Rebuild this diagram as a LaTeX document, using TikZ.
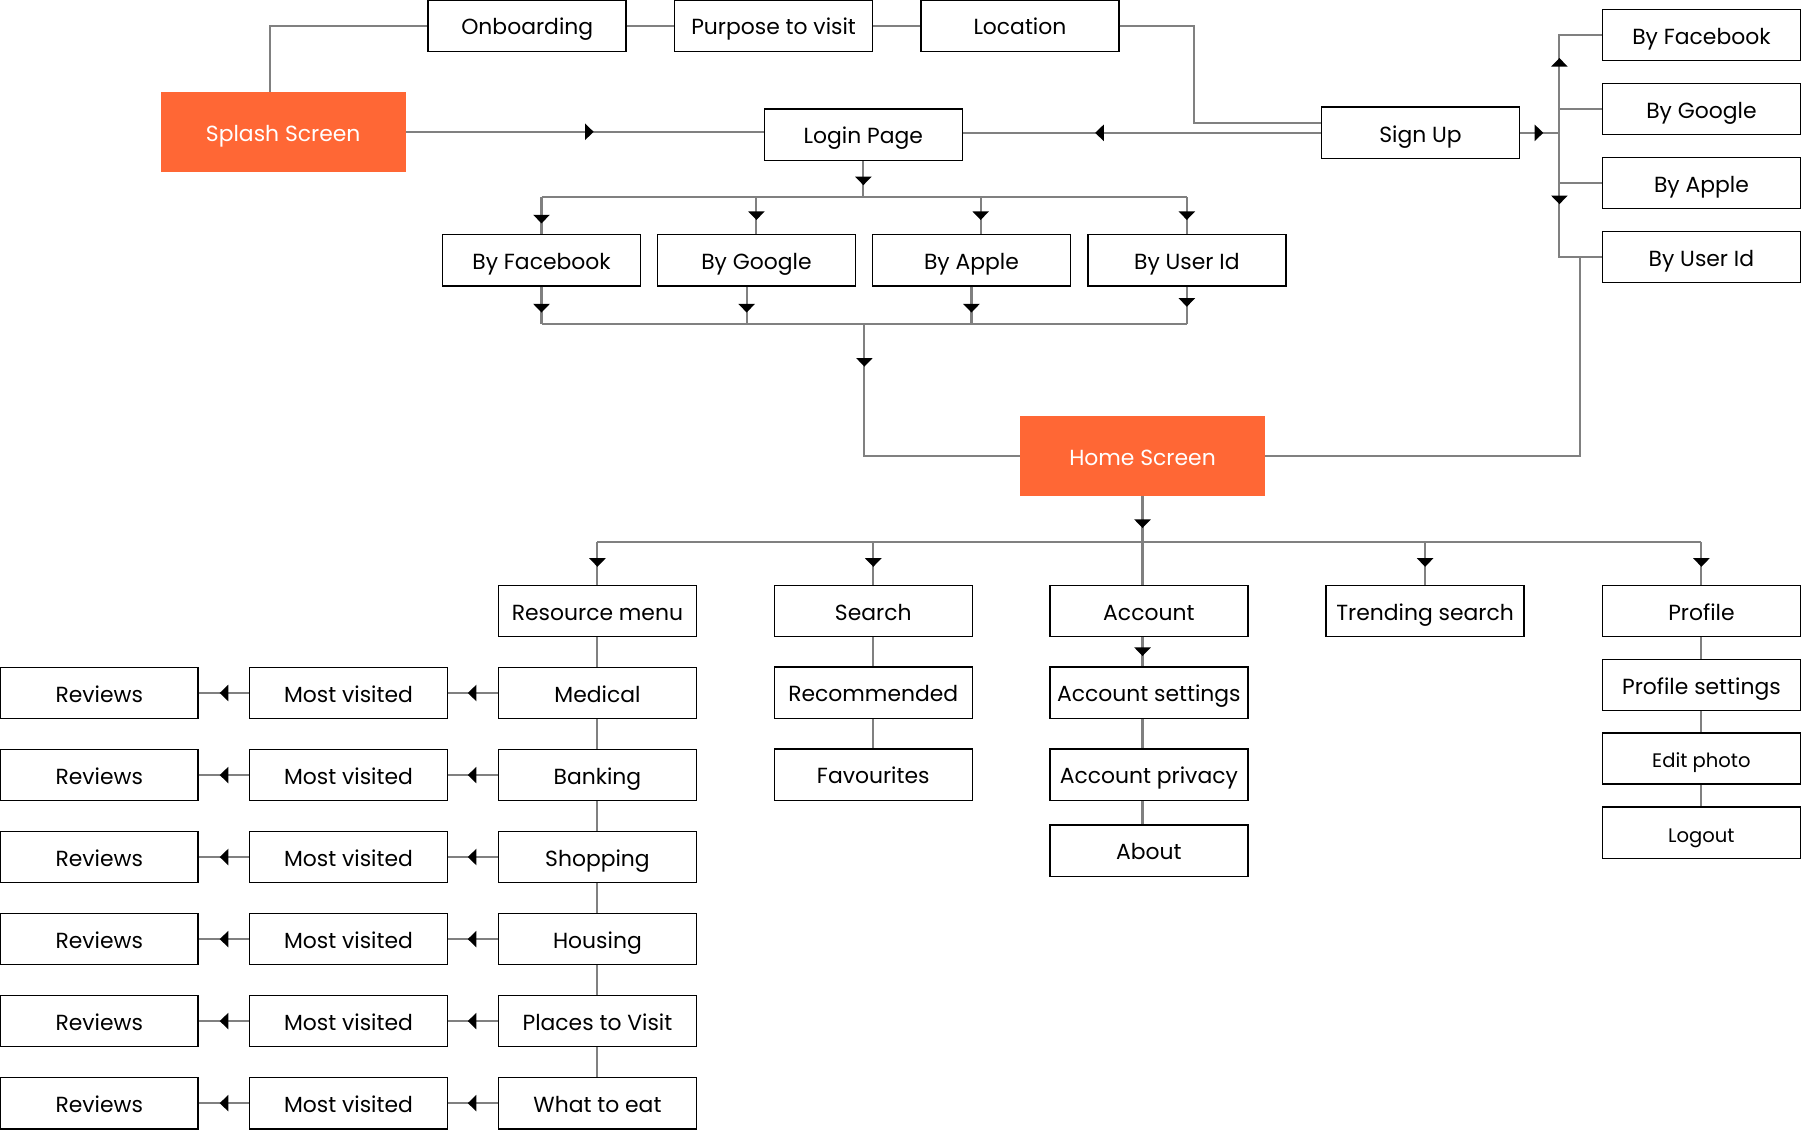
\documentclass[tikz,border=0pt]{standalone}
\usepackage{fontspec}
\setmainfont{Poppins}
\usetikzlibrary{decorations.markings,arrows.meta,calc}

\definecolor{splashorange}{RGB}{255,103,53}
\definecolor{linkgray}{RGB}{128,128,128}

\begin{document}
\begin{tikzpicture}[x=1pt,y=-1pt]
	% Styles for the boxes, the two screens and the gray links
	\tikzset{
		box/.style={draw=black, line width=1.3pt, minimum width=172pt, minimum height=44.5pt,
			inner sep=0pt, text height=16pt, text depth=0pt, font=\fontsize{19}{21}\selectfont},
		screen/.style={fill=splashorange, text=white, minimum width=213pt, minimum height=69pt,
			inner sep=0pt, text height=16pt, text depth=0pt, font=\fontsize{19}{21}\selectfont},
		link/.style={draw=linkgray, line width=1.8pt}
	}
	% Define a decoration for a black triangle somewhere on the link
	\tikzset{
		arrow at/.style={
			decoration={markings,
				mark=at position #1 with {\arrow{Triangle[width=14pt,length=7.5pt,color=black]}}},
			postaction={decorate}
		}
	}
	
	\useasboundingbox (0,0) rectangle (1568,981);
	
	% Top row
	\node[screen] (splash) at (246,114.5) {Splash Screen};
	\node[box] (onboard) at (458,22.4) {Onboarding};
	\node[box] (purpose) at (672,22.4) {Purpose to visit};
	\node[box] (location) at (886,22.4) {Location};
	\node[box] (login) at (750,117) {Login Page};
	\node[box] (signup) at (1234,115.4) {Sign Up};
	
	% Sign up options
	\node[box] (sfb) at (1478,30.5) {By Facebook};
	\node[box] (sgo) at (1478,94.7) {By Google};
	\node[box] (sap) at (1478,159) {By Apple};
	\node[box] (suid) at (1478,223.3) {By User Id};
	
	% Login options
	\node[box] (lfb) at (470.4,226) {By Facebook};
	\node[box] (lgo) at (657.1,226) {By Google};
	\node[box] (lap) at (843.9,226) {By Apple};
	\node[box] (luid) at (1031,226) {By User Id};
	
	\node[screen] (home) at (992.5,396) {Home Screen};
	
	% Home menu
	\node[box] (rm) at (519,530.8) {Resource menu};
	\node[box] (srch) at (758.6,530.8) {Search};
	\node[box] (acc) at (998,530.8) {Account};
	\node[box] (trend) at (1238,530.8) {Trending search};
	\node[box] (pro) at (1478,530.8) {Profile};
	
	% Resource menu column
	\node[box] (med) at (519,602) {Medical};
	\node[box] (bank) at (519,673.3) {Banking};
	\node[box] (shop) at (519,744.5) {Shopping};
	\node[box] (house) at (519,815.8) {Housing};
	\node[box] (visit) at (519,887) {Places to Visit};
	\node[box] (eat) at (519,958.3) {What to eat};
	
	\node[box] (mv1) at (302.7,602) {Most visited};
	\node[box] (mv2) at (302.7,673.3) {Most visited};
	\node[box] (mv3) at (302.7,744.5) {Most visited};
	\node[box] (mv4) at (302.7,815.8) {Most visited};
	\node[box] (mv5) at (302.7,887) {Most visited};
	\node[box] (mv6) at (302.7,958.3) {Most visited};
	
	\node[box] (rev1) at (86.2,602) {Reviews};
	\node[box] (rev2) at (86.2,673.3) {Reviews};
	\node[box] (rev3) at (86.2,744.5) {Reviews};
	\node[box] (rev4) at (86.2,815.8) {Reviews};
	\node[box] (rev5) at (86.2,887) {Reviews};
	\node[box] (rev6) at (86.2,958.3) {Reviews};
	
	% Search, account and profile columns
	\node[box] (rec) at (758.6,601.8) {Recommended};
	\node[box] (fav) at (758.6,673) {Favourites};
	\node[box] (aset) at (998,601.8) {Account settings};
	\node[box] (apriv) at (998,673) {Account privacy};
	\node[box] (about) at (998,739) {About};
	\node[box] (pset) at (1478,595) {Profile settings};
	\node[box, font=\fontsize{17}{19}\selectfont] (edit) at (1478,659) {Edit photo};
	\node[box, font=\fontsize{17}{19}\selectfont] (logout) at (1478,723.5) {Logout};
	
	% Bus points
	\coordinate (sbus) at ($(signup.east)+(34,0)$);
	\coordinate (lbus) at (750,171.4);
	\coordinate (bbus) at (750.9,281.5);
	\coordinate (hbus) at (992.5,471);
	\coordinate (lapin) at ($(lap.north)+(8,0)$);
	\coordinate (lgoout) at ($(lgo.south)+(-8.5,0)$);
	
	% Onboarding path
	\draw[link] ($(splash.north west)+(95.5,0)$) |- (onboard.west);
	\draw[link] (onboard.east) -- (purpose.west);
	\draw[link] (purpose.east) -- (location.west);
	\draw[link] (location.east) -- ++(64.5,0) |- ($(signup.west)+(0,-8.3)$);
	
	% Into the login page
	\draw[link, arrow at=163pt] (splash.east) -- (splash.east -| login.west);
	\draw[link, arrow at=196pt] (signup.west) -- (signup.west -| login.east);
	
	% Sign up options
	\draw[link, arrow at=20pt] (signup.east) -- (sbus);
	\draw[link, arrow at=65pt] (sbus) |- (sfb.west);
	\draw[link] (sbus) |- (sgo.west);
	\draw[link] (sbus) |- (sap.west);
	\draw[link, arrow at=62pt] (sbus) |- (suid.west);
	\draw[link] ($(suid.west)+(-19,0)$) |- (home.east);
	
	% Login options
	\draw[link, arrow at=21pt] (login.south) -- (lbus);
	\draw[link] (lbus -| lfb.north) -- (lbus -| luid.north);
	\draw[link, arrow at=-9pt] (lbus -| lfb.north) -- (lfb.north);
	\draw[link, arrow at=-12pt] (lbus -| lgo.north) -- (lgo.north);
	\draw[link, arrow at=-12pt] (lbus -| lapin) -- (lapin);
	\draw[link, arrow at=-12pt] (lbus -| luid.north) -- (luid.north);
	
	% Login options to home screen
	\draw[link] (bbus -| lfb.south) -- (bbus -| luid.south);
	\draw[link, arrow at=-10pt] (lfb.south) -- (lfb.south |- bbus);
	\draw[link, arrow at=-10pt] (lgoout) -- (lgoout |- bbus);
	\draw[link, arrow at=-10pt] (lap.south) -- (lap.south |- bbus);
	\draw[link, arrow at=-15pt] (luid.south) -- (luid.south |- bbus);
	\draw[link, arrow at=37pt] (bbus) |- (home.west);
	
	% Home screen menu
	\draw[link, arrow at=28pt] (home.south) -- (home.south |- acc.north);
	\draw[link] (hbus -| rm.north) -- (hbus -| pro.north);
	\draw[link, arrow at=-15.5pt] (hbus -| rm.north) -- (rm.north);
	\draw[link, arrow at=-15.5pt] (hbus -| srch.north) -- (srch.north);
	\draw[link, arrow at=-15.5pt] (hbus -| trend.north) -- (trend.north);
	\draw[link, arrow at=-15.5pt] (hbus -| pro.north) -- (pro.north);
	
	% Resource menu
	\draw[link] (rm.south) -- (med.north);
	\draw[link] (med.south) -- (bank.north);
	\draw[link] (bank.south) -- (shop.north);
	\draw[link] (shop.south) -- (house.north);
	\draw[link] (house.south) -- (visit.north);
	\draw[link] (visit.south) -- (eat.north);
	
	\draw[link, arrow at=-17pt] (med.west) -- (mv1.east);
	\draw[link, arrow at=-17pt] (bank.west) -- (mv2.east);
	\draw[link, arrow at=-17pt] (shop.west) -- (mv3.east);
	\draw[link, arrow at=-17pt] (house.west) -- (mv4.east);
	\draw[link, arrow at=-17pt] (visit.west) -- (mv5.east);
	\draw[link, arrow at=-17pt] (eat.west) -- (mv6.east);
	
	\draw[link, arrow at=-18pt] (mv1.west) -- (rev1.east);
	\draw[link, arrow at=-18pt] (mv2.west) -- (rev2.east);
	\draw[link, arrow at=-18pt] (mv3.west) -- (rev3.east);
	\draw[link, arrow at=-18pt] (mv4.west) -- (rev4.east);
	\draw[link, arrow at=-18pt] (mv5.west) -- (rev5.east);
	\draw[link, arrow at=-18pt] (mv6.west) -- (rev6.east);
	
	% Search column
	\draw[link] (srch.south) -- (rec.north);
	\draw[link] (rec.south) -- (fav.north);
	
	% Account column
	\draw[link, arrow at=-9pt] (acc.south -| hbus) -- (aset.north -| hbus);
	\draw[link] (aset.south -| hbus) -- (apriv.north -| hbus);
	\draw[link] (apriv.south -| hbus) -- (about.north -| hbus);
	
	% Profile column
	\draw[link] (pro.south) -- (pset.north);
	\draw[link] (pset.south) -- (edit.north);
	\draw[link] (edit.south) -- (logout.north);
\end{tikzpicture}
\end{document}
